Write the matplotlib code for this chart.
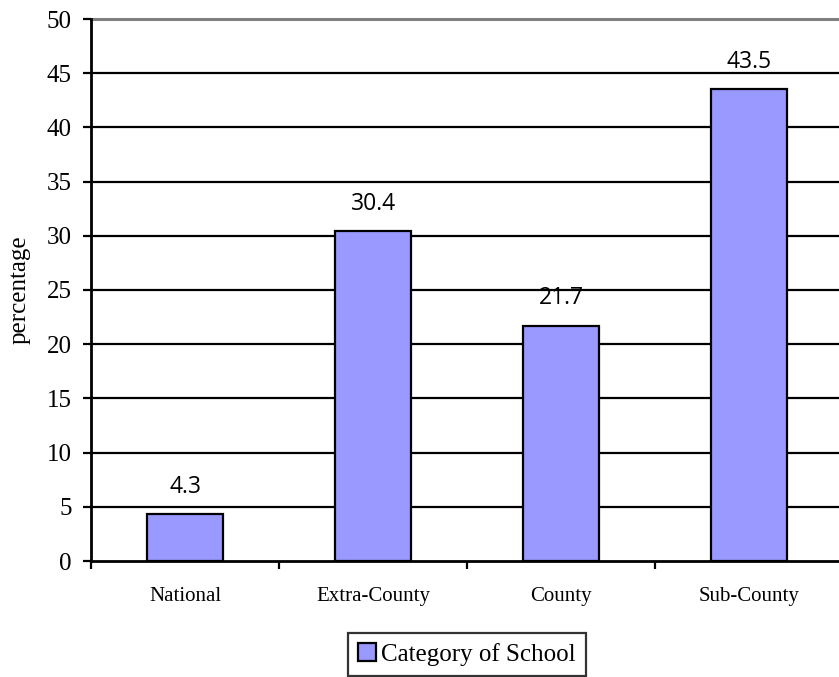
import numpy as np
import matplotlib.pyplot as plt
from matplotlib.patches import Patch

plt.rcParams['font.family'] = ['Liberation Serif', 'DejaVu Serif']

categories = ['National', 'Extra-County', 'County', 'Sub-County']
percentages = [4.3, 30.4, 21.7, 43.5]
yticks = [0, 5, 10, 15, 20, 25, 30, 35, 40, 45, 50]

bar_color = '#9999FF'

fig = plt.figure(figsize=(8.39, 6.77), dpi=100)
ax = fig.add_axes([91 / 839, 116 / 677, 752 / 839, 542 / 677])

x = np.arange(len(categories))
ax.bar(x, percentages, width=0.405, color=bar_color, edgecolor='black',
       linewidth=1.6, zorder=3)

# value labels above the bars
for xi, v in zip(x, percentages):
    ax.annotate(f'{v}', (xi, v), xytext=(0, 20), textcoords='offset points',
                ha='center', va='center', fontsize=16.5, family='Open Sans')

ax.set_xlim(-0.5, len(categories) - 0.5)
ax.set_ylim(0, 50)

# horizontal grid, top line grey
for y in yticks[1:-1]:
    ax.axhline(y, color='black', linewidth=1.6, zorder=1)
ax.axhline(50, color='#808080', linewidth=2.2, zorder=1, clip_on=False)

ax.set_yticks(yticks)
ax.set_yticklabels([str(t) for t in yticks], fontsize=18)
ax.tick_params(axis='y', direction='out', length=6, width=1.6, pad=8)

# category labels between boundary ticks
ax.set_xticks(np.arange(-0.5, len(categories), 1.0))
ax.set_xticklabels([])
ax.set_xticks(x, minor=True)
ax.set_xticklabels(categories, minor=True, fontsize=15)
ax.tick_params(axis='x', which='major', direction='out', length=6, width=1.6)
ax.tick_params(axis='x', which='minor', length=0, pad=19)

for side in ['top', 'right']:
    ax.spines[side].set_visible(False)
ax.spines['left'].set_linewidth(2)
ax.spines['bottom'].set_linewidth(2)

ax.set_ylabel('percentage', fontsize=18)
ax.yaxis.set_label_coords(-0.08, 0.5)

handle = Patch(facecolor=bar_color, edgecolor='black', linewidth=1.6)
leg = fig.legend([handle], ['Category of School'], loc='upper center',
                 bbox_to_anchor=(467 / 839, 44 / 677), frameon=True,
                 prop={'size': 18},
                 handlelength=0.7, handleheight=0.7, handletextpad=0.2,
                 borderpad=0.4, fancybox=False, borderaxespad=0)
leg.get_frame().set_edgecolor('black')
leg.get_frame().set_linewidth(1.6)

fig.savefig('out.png', dpi=100)
